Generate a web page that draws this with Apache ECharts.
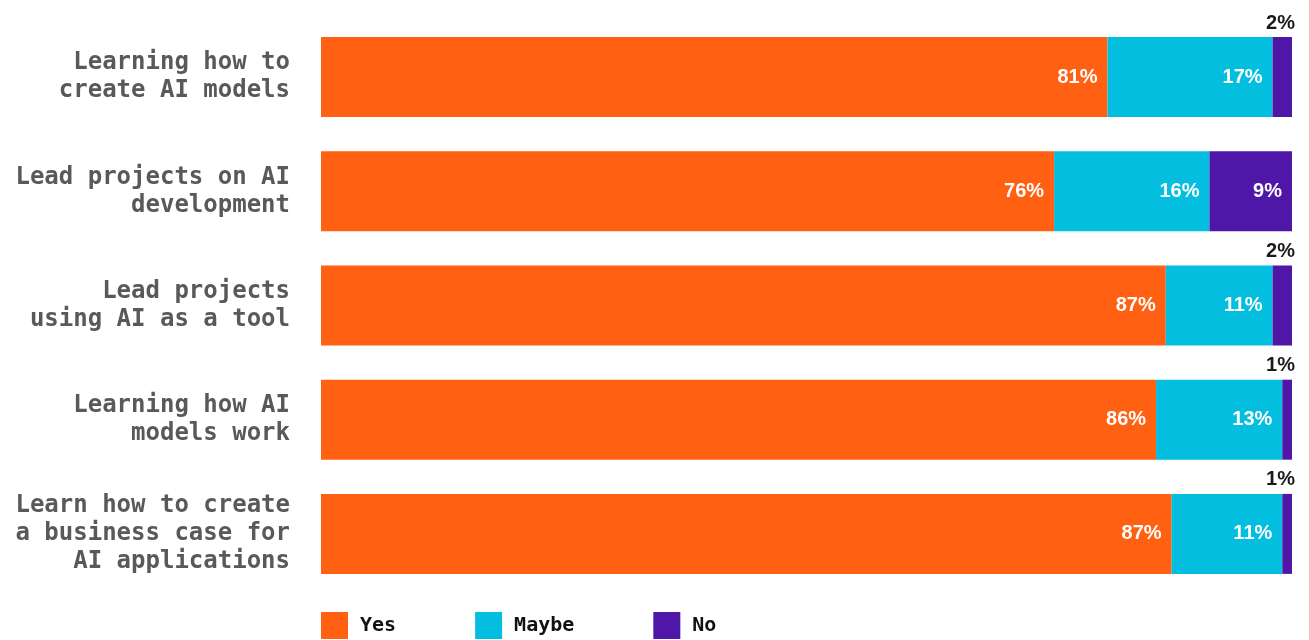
<!DOCTYPE html>
<html>
<head>
<meta charset="utf-8">
<script src="https://cdn.jsdelivr.net/npm/echarts@6/dist/echarts.min.js"></script>
<style>
html,body{margin:0;padding:0;background:#fff;}
#chart{width:1309px;height:640px;}
</style>
</head>
<body>
<div id="chart"></div>
<script>
const categories = [
  "Learning how to\ncreate AI models",
  "Lead projects on AI\ndevelopment",
  "Lead projects\nusing AI as a tool",
  "Learning how AI\nmodels work",
  "Learn how to create\na business case for\nAI applications"
];
// bar lengths (share of respondents, %)
const yesValues   = [81, 75.5, 87, 86, 87.6];
const maybeValues = [17, 16, 11, 13, 11.4];
const noValues    = [2, 8.5, 2, 1, 1];
// printed labels
const yesLabels   = [81, 76, 87, 86, 87];
const maybeLabels = [17, 16, 11, 13, 11];
const noLabels    = [2, 9, 2, 1, 1];

const COLORS = {yes:'#FF6011', maybe:'#04BEE0', no:'#4F17A8'};
const valueFont = {fontFamily:'Liberation Sans', fontWeight:'bold', fontSize:20, color:'#fff'};
const insideLabel = (labels) => Object.assign({
  show:true, position:'insideRight', distance:10,
  formatter:p => labels[p.dataIndex] + '%'
}, valueFont);

const noData = noValues.map((v, i) => {
  if (noLabels[i] < 5) {
    return {value:v, label:{
      show:true, position:['100%', 0], align:'right', verticalAlign:'bottom',
      offset:[3,-4], color:'#1a1a1a', fontFamily:'Liberation Sans', fontWeight:'bold', fontSize:20,
      formatter: noLabels[i] + '%'
    }};
  }
  return {value:v};
});

const chart = echarts.init(document.getElementById('chart'), null, {renderer:'canvas'});
chart.setOption({
  animation:false,
  backgroundColor:'#fff',
  grid:{left:321, right:17, top:20, bottom:49, containLabel:false},
  xAxis:{type:'value', min:0, max:100, show:false},
  yAxis:{
    type:'category', data:categories, inverse:true,
    axisLine:{show:false}, axisTick:{show:false}, splitLine:{show:false},
    axisLabel:{
      margin:31, color:'#595959', fontFamily:'DejaVu Sans Mono', fontWeight:'bold',
      fontSize:24, lineHeight:28, align:'right'
    }
  },
  legend:{
    left:321, top:612, padding:0, itemWidth:27, itemHeight:27, itemGap:79,
    icon:'rect',
    textStyle:{fontFamily:'DejaVu Sans Mono', fontWeight:'bold', fontSize:20, color:'#111', padding:[0,0,0,7]},
    data:['Yes','Maybe','No']
  },
  series:[
    {name:'Yes', type:'bar', stack:'s', barWidth:80, data:yesValues,
     itemStyle:{color:COLORS.yes}, label:insideLabel(yesLabels)},
    {name:'Maybe', type:'bar', stack:'s', barWidth:80, data:maybeValues,
     itemStyle:{color:COLORS.maybe}, label:insideLabel(maybeLabels)},
    {name:'No', type:'bar', stack:'s', barWidth:80, data:noData,
     itemStyle:{color:COLORS.no}, label:insideLabel(noLabels)}
  ]
});
</script>
</body>
</html>
